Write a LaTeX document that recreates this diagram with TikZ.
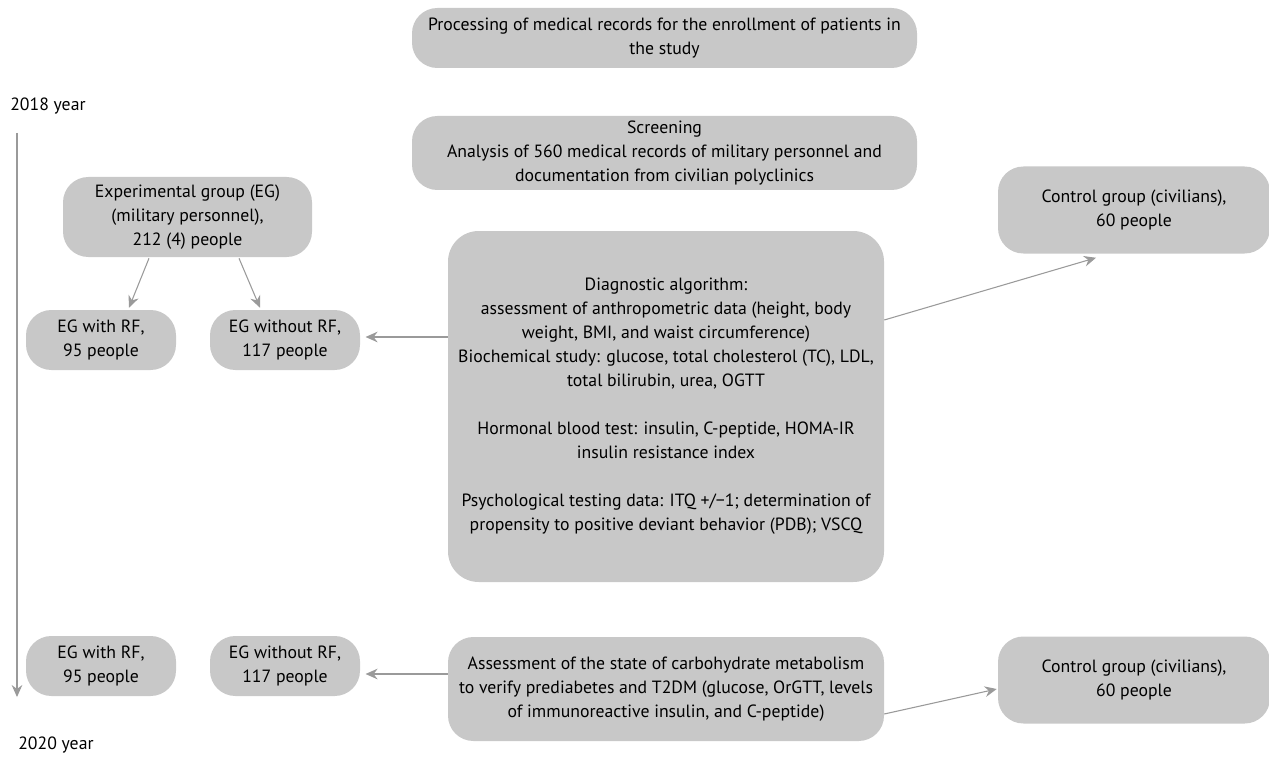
\documentclass[tikz,border=0pt]{standalone}
\usepackage{fontspec}
\setmainfont{PT Sans}
\usetikzlibrary{arrows.meta,calc}
\definecolor{boxgray}{HTML}{C8C8C8}
\definecolor{linegray}{HTML}{9A9A9A}
\begin{document}
\begin{tikzpicture}[x=0.75pt,y=-0.75pt,
  every node/.style={font=\fontsize{13.3}{18}\selectfont, text=black},
  gbox/.style={fill=boxgray, draw=none, rounded corners=19pt, align=center, inner sep=0pt},
  conn/.style={draw=linegray, line width=0.8pt, -{Stealth[length=9pt,width=8pt,inset=3pt]}},
  plain/.style={inner sep=0pt, anchor=west}]
\useasboundingbox (0,0) rectangle (1269,759);
% nodes
\node[gbox, minimum width=505*0.75pt, minimum height=60*0.75pt] (top) at (664.5,38)
  {Processing of medical records for the enrollment of patients in\\the study};
\node[gbox, minimum width=505*0.75pt, minimum height=74*0.75pt] (screen) at (664.5,153)
  {Screening\\Analysis of 560 medical records of military personnel and\\documentation from civilian polyclinics};
\node[gbox, minimum width=249*0.75pt, minimum height=80*0.75pt] (eg) at (187.5,217)
  {Experimental group (EG)\\(military personnel),\\212 (4) people};
\node[gbox, minimum width=150*0.75pt, minimum height=60*0.75pt] (rfa) at (101,340)
  {EG with RF,\\95 people};
\node[gbox, minimum width=150*0.75pt, minimum height=60*0.75pt] (nrfa) at (285,340)
  {EG without RF,\\117 people};
\node[gbox, rounded corners=23pt, minimum width=436*0.75pt, minimum height=351*0.75pt] (diag) at (666,406.5)
  {Diagnostic algorithm:\\assessment of anthropometric data (height, body\\weight, BMI, and waist circumference)\\Biochemical study: glucose, total cholesterol (TC), LDL,\\total bilirubin, urea, OGTT\\[18pt]Hormonal blood test: insulin, C-peptide, HOMA-IR\\insulin resistance index\\[18pt]Psychological testing data: ITQ +/\textminus1; determination of\\propensity to positive deviant behavior (PDB); VSCQ};
\node[gbox, minimum width=272*0.75pt, minimum height=87*0.75pt] (ctla) at (1134,210)
  {Control group (civilians),\\60 people};
\node[gbox, minimum width=150*0.75pt, minimum height=60*0.75pt] (rfb) at (101,666)
  {EG with RF,\\95 people};
\node[gbox, minimum width=150*0.75pt, minimum height=60*0.75pt] (nrfb) at (285,666)
  {EG without RF,\\117 people};
\node[gbox, minimum width=436*0.75pt, minimum height=104*0.75pt] (assess) at (666,689)
  {Assessment of the state of carbohydrate metabolism\\to verify prediabetes and T2DM (glucose, OrGTT, levels\\of immunoreactive insulin, and C-peptide)};
\node[gbox, minimum width=272*0.75pt, minimum height=87*0.75pt] (ctlb) at (1134,680)
  {Control group (civilians),\\60 people};
\node[plain] (y18) at (10,106) {2018 year};
\node[plain] (y20) at (18,745) {2020 year};
\coordinate (tl0) at (17,133);
\coordinate (tl1) at (17,697);
% connectors
\draw[conn] (tl0) -- (tl1);
\draw[conn] ($(eg.south)+(-38.5,1)$) -- ($(rfa.north)+(28,-2)$);
\draw[conn] ($(eg.south)+(51.5,1)$) -- ($(nrfa.north)+(-25,-2)$);
\draw[conn, shorten >=4pt] ($(diag.west|-nrfa.east)+(0,-3)$) -- ($(nrfa.east)+(0,-3)$);
\draw[conn] ($(diag.east)+(0,-86.5)$) -- ($(ctla.south)+(-38,4)$);
\draw[conn, shorten >=4pt] ($(assess.west|-nrfb.east)+(0,8)$) -- ($(nrfb.east)+(0,8)$);
\draw[conn] ($(assess.east)+(0,25)$) -- ($(ctlb.west)+(-1,9)$);
\end{tikzpicture}
\end{document}
